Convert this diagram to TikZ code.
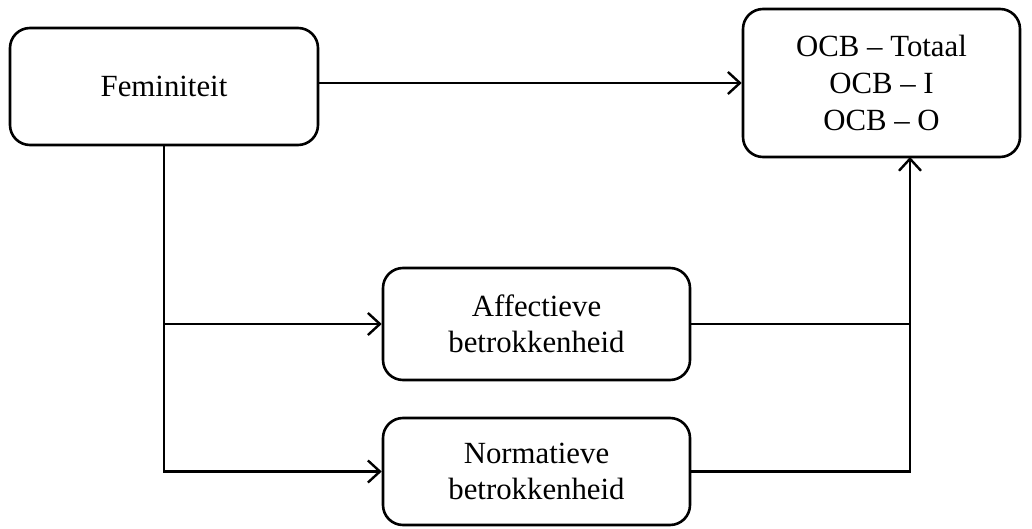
\documentclass[tikz,border=0pt]{standalone}
\usepackage{fontspec}
\setmainfont{Liberation Serif}
\usetikzlibrary{arrows.meta}
\tikzset{box/.style={draw,line width=1.3pt,rounded corners=10pt,align=center,
		font=\fontsize{15.4}{18.3}\selectfont,inner sep=0pt},
	link/.style={line width=1.2pt}}

\begin{document}
\begin{tikzpicture}[x=0.5pt,y=-0.5pt]
		\useasboundingbox (0,0) rectangle (1032,529);
		\begin{scope}[every node/.style={box}]
			\node[minimum width=154pt,minimum height=58.5pt] (fem) at (164,86.5) {Feminiteit};
			\node[minimum width=138.5pt,minimum height=74pt] (ocb) at (881.5,83) {OCB -- Totaal\\OCB -- I\\OCB -- O};
			\node[minimum width=153.5pt,minimum height=56pt] (aff) at (536.5,324) {Affectieve\\betrokkenheid};
			\node[minimum width=153.5pt,minimum height=53.5pt] (norm) at (536.5,471.5) {Normatieve\\betrokkenheid};
		\end{scope}
		\coordinate (ocbin) at (910,157);
		\begin{scope}[>={Straight Barb[length=6pt,width=11pt]},
			every path/.style={link}]
			\draw [->] (fem.east |- ocb) -- (ocb.west);
			\draw [->] (fem.south) |- (aff.west);
			\draw [->] (fem.south) |- (norm.west);
			\draw [-] (aff.east) -- (aff.east -| ocbin);
			\draw [->] (norm.east) -| (ocbin);
		\end{scope}
	\end{tikzpicture}
\end{document}
